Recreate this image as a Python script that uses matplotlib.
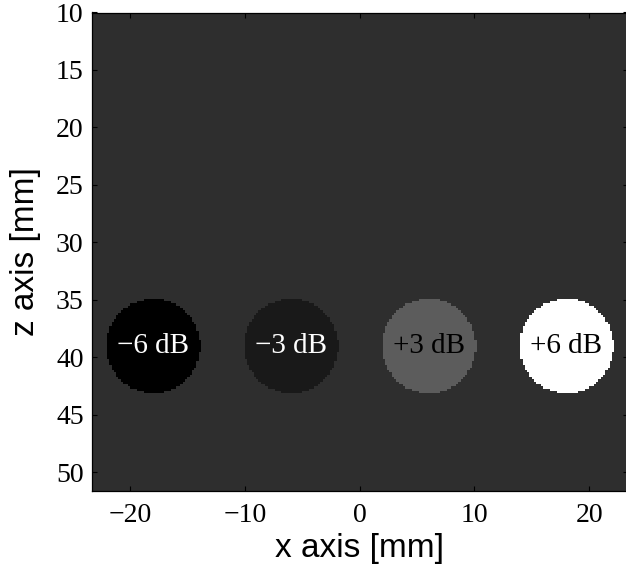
import numpy as np
import matplotlib
matplotlib.use("Agg")
import matplotlib.pyplot as plt

# Cyst phantom: four circular targets of different contrast on a uniform background
labels = ["\u22126 dB", "\u22123 dB", "+3 dB", "+6 dB"]
centers_x = [-18.0, -6.0, 6.0, 18.0]      # mm
center_z = 39.0                            # mm
radius = 4.1                               # mm
gray_levels = [0.0, 0.10, 0.36, 1.0]       # displayed gray of each target
background_level = 0.18
label_colors = ["white", "white", "black", "black"]

x_ticks = [-20, -10, 0, 10, 20]
z_ticks = [10, 15, 20, 25, 30, 35, 40, 45, 50]
x_range = (-23.34, 23.34)
z_range = (10.0, 51.6)
pixel = 0.2                                # mm per image sample

# Build the sampled phantom image
xs = np.arange(x_range[0], x_range[1] + pixel, pixel)
zs = np.arange(z_range[0], z_range[1] + pixel, pixel)
X, Z = np.meshgrid(xs, zs)
img = np.full(X.shape, background_level)
for cx, g in zip(centers_x, gray_levels):
    img[(X - cx) ** 2 + (Z - center_z) ** 2 <= radius ** 2] = g

fig = plt.figure(figsize=(6.26, 5.70), dpi=100)
ax = fig.add_axes([92 / 626, 1 - 490.7 / 570, 535.5 / 626, 478.2 / 570])
ax.imshow(img, cmap="gray", vmin=0, vmax=1, interpolation="nearest",
          extent=[xs[0] - pixel / 2, xs[-1] + pixel / 2, zs[-1] + pixel / 2, zs[0] - pixel / 2],
          aspect="auto")
ax.set_xlim(*x_range)
ax.set_ylim(z_range[1], z_range[0])

for cx, lab, c in zip(centers_x, labels, label_colors):
    ax.text(cx, center_z, lab, color=c, ha="center", va="center",
            fontsize=21, family="Liberation Serif")

ax.set_xticks(x_ticks)
ax.set_yticks(z_ticks)
ax.set_xticklabels([f"{v:d}".replace("-", "\u2212") for v in x_ticks])
ax.set_yticklabels([str(v) for v in z_ticks])
ax.tick_params(direction="in", length=3.6, width=0.8, color="black",
               top=True, right=True, labelsize=20)
ax.tick_params(axis="x", pad=9)
ax.tick_params(axis="y", pad=6)
for lab in ax.get_xticklabels() + ax.get_yticklabels():
    lab.set_family("Liberation Serif")
for s in ax.spines.values():
    s.set_linewidth(0.9)
    s.set_color("black")

ax.set_xlabel("x axis [mm]", fontsize=24, family="Liberation Sans")
ax.set_ylabel("z axis [mm]", fontsize=24, family="Liberation Sans")
ax.xaxis.set_label_coords(0.5, -0.088)
ax.yaxis.set_label_coords(-0.095, 0.5)

fig.savefig("out.png", dpi=100)
